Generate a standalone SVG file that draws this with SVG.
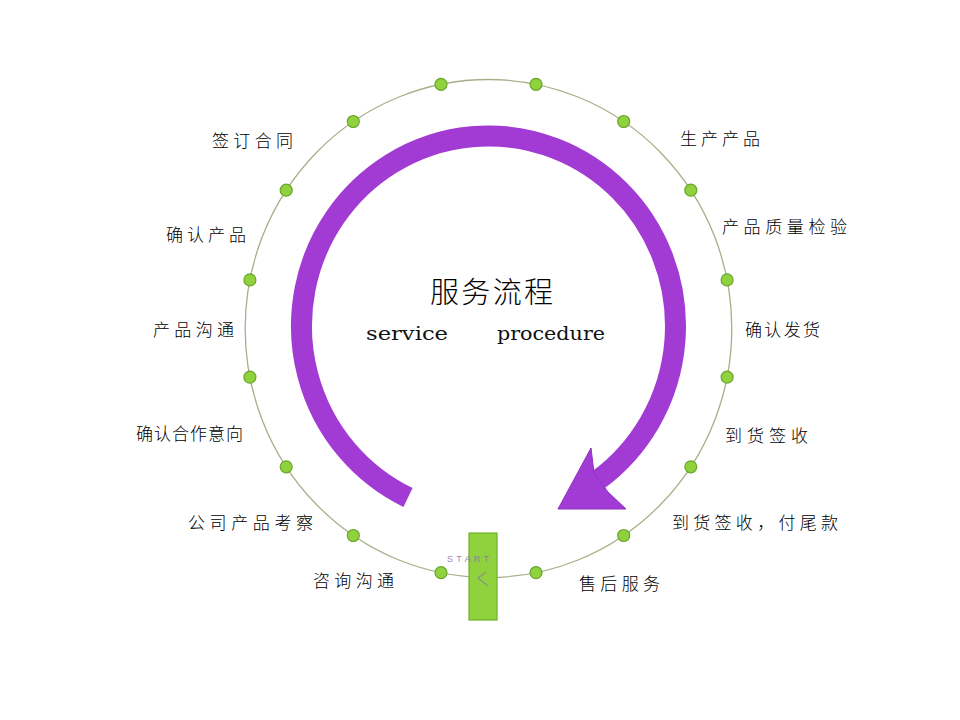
<svg xmlns="http://www.w3.org/2000/svg" width="960" height="720" viewBox="0 0 960 720">
<style>
.lbl{font-family:"Noto Sans CJK SC","Noto Sans CJK JP",sans-serif;font-size:17px;font-weight:300;fill:#000;}
.dot{fill:#8fd23e;stroke:#6aa52a;stroke-width:1.2;}
.title{font-family:"Noto Sans CJK SC",sans-serif;font-size:29px;font-weight:300;fill:#000;}
.en{font-family:"DejaVu Serif",serif;font-size:18px;fill:#111;}
</style>
<rect width="960" height="720" fill="#ffffff"/>
<g id="connectors">
<ellipse cx="488.5" cy="328.5" rx="243.3" ry="249" fill="none" stroke="#aaae88" stroke-width="1.3"/>
<path d="M 408 497.5 A 187 190 0 1 1 598 480" fill="none" stroke="#a23ad4" stroke-width="21"/>
<polygon points="558,509 591,448 594,473 608,492 626,509" fill="#a23ad4" stroke="#9130c2" stroke-width="1"/>
</g>
<g id="center">
<text class="title" x="430" y="303" textLength="123" lengthAdjust="spacing">服务流程</text>
<text class="en" x="366" y="340" textLength="82" lengthAdjust="spacingAndGlyphs">service</text>
<text class="en" x="497" y="340" textLength="108" lengthAdjust="spacingAndGlyphs">procedure</text>
</g>
<g id="start">
<rect x="469" y="533" width="28" height="87" fill="#8fd23e" stroke="#6fb02a" stroke-width="1.2"/>
<text x="447" y="562" font-family="Liberation Sans,sans-serif" font-size="9" fill="#8a76a8" opacity="0.85" textLength="42" lengthAdjust="spacing">START</text>
<path d="M 486 572 L 478 578 L 488 586" fill="none" stroke="#8a76a8" stroke-width="1.2" opacity="0.7"/>
</g>
<g id="n1"><circle class="dot" cx="441" cy="84.3" r="6"/></g>
<g id="n2"><circle class="dot" cx="536" cy="84.3" r="6"/></g>
<g id="n3"><circle class="dot" cx="353.3" cy="121.5" r="6"/><text class="lbl" x="212" y="147" textLength="81" lengthAdjust="spacing">签订合同</text></g>
<g id="n4"><circle class="dot" cx="623.7" cy="121.5" r="6"/><text class="lbl" x="680" y="145" textLength="80" lengthAdjust="spacing">生产产品</text></g>
<g id="n5"><circle class="dot" cx="286.2" cy="190.2" r="6"/><text class="lbl" x="166" y="241" textLength="80" lengthAdjust="spacing">确认产品</text></g>
<g id="n6"><circle class="dot" cx="690.8" cy="190.2" r="6"/><text class="lbl" x="722" y="233" textLength="125" lengthAdjust="spacing">产品质量检验</text></g>
<g id="n7"><circle class="dot" cx="249.9" cy="279.9" r="6"/><text class="lbl" x="153" y="336" textLength="81" lengthAdjust="spacing">产品沟通</text></g>
<g id="n8"><circle class="dot" cx="727.1" cy="279.9" r="6"/><text class="lbl" x="745" y="336" textLength="75" lengthAdjust="spacing">确认发货</text></g>
<g id="n9"><circle class="dot" cx="249.9" cy="377.1" r="6"/><text class="lbl" x="136" y="440" textLength="107" lengthAdjust="spacing">确认合作意向</text></g>
<g id="n10"><circle class="dot" cx="727.1" cy="377.1" r="6"/><text class="lbl" x="725" y="442" textLength="83" lengthAdjust="spacing">到货签收</text></g>
<g id="n11"><circle class="dot" cx="286.2" cy="466.8" r="6"/><text class="lbl" x="188" y="529" textLength="125" lengthAdjust="spacing">公司产品考察</text></g>
<g id="n12"><circle class="dot" cx="690.8" cy="466.8" r="6"/><text class="lbl" x="672" y="529" textLength="166" lengthAdjust="spacing">到货签收，付尾款</text></g>
<g id="n13"><circle class="dot" cx="353.3" cy="535.5" r="6"/><text class="lbl" x="313" y="587" textLength="81" lengthAdjust="spacing">咨询沟通</text></g>
<g id="n14"><circle class="dot" cx="623.7" cy="535.5" r="6"/><text class="lbl" x="579" y="590" textLength="81" lengthAdjust="spacing">售后服务</text></g>
<g id="n15"><circle class="dot" cx="441" cy="572.7" r="6"/></g>
<g id="n16"><circle class="dot" cx="536" cy="572.7" r="6"/></g>
</svg>
